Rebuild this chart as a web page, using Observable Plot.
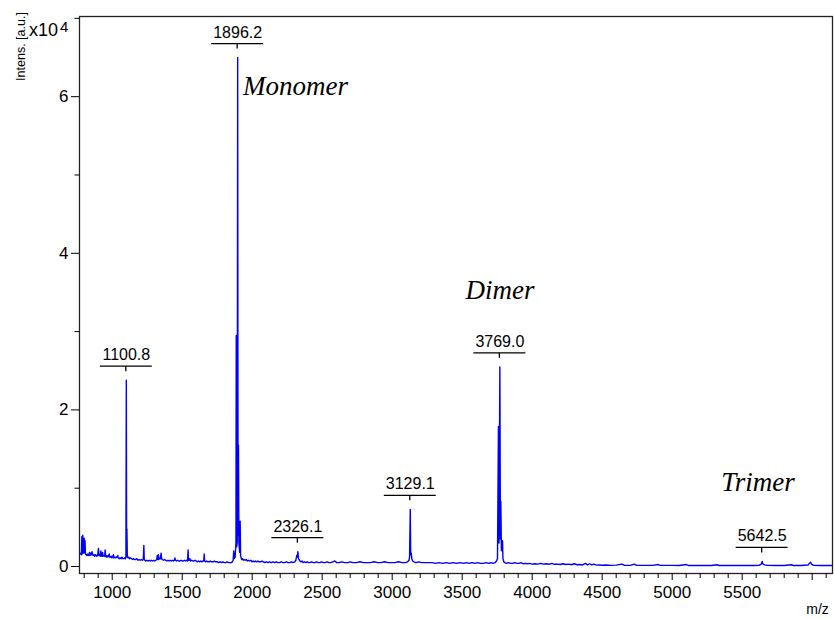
<!DOCTYPE html>
<html>
<head>
<meta charset="utf-8">
<script src="https://cdn.jsdelivr.net/npm/d3@7"></script>
<script src="https://cdn.jsdelivr.net/npm/@observablehq/plot@0.6"></script>
<style>
  html, body { margin: 0; padding: 0; background: #fff; }
  #chart { width: 835px; height: 619px; }
</style>
</head>
<body>
<div id="chart"></div>
<script>
// ---- Data (m/z, intensity in units of 10^4 a.u.) ----
const spectrum = [
  [768,0.16],[775,0.17],[780,0.15],[783,0.38],[786,0.16],[790,0.40],[793,0.20],[797,0.17],[800,0.36],[803,0.18],
  [806,0.33],[809,0.16],[814,0.15],[819,0.14],[824,0.16],[829,0.14],[834,0.15],[838,0.18],[842,0.14],[847,0.17],
  [851,0.15],[856,0.19],[860,0.15],[865,0.14],[870,0.15],[875,0.13],[880,0.15],[885,0.14],[890,0.13],[896,0.15],
  [902,0.23],[905,0.14],[910,0.15],[915,0.13],[919,0.20],[922,0.14],[927,0.13],[931,0.18],[934,0.13],[940,0.14],
  [946,0.13],[950,0.21],[953,0.13],[958,0.12],[963,0.14],[968,0.12],[973,0.13],[979,0.16],[982,0.12],[988,0.12],
  [993,0.13],[998,0.11],[1004,0.13],[1009,0.15],[1012,0.11],[1018,0.12],[1025,0.11],[1032,0.12],[1040,0.14],[1043,0.11],
  [1050,0.10],[1057,0.11],[1064,0.10],[1069,0.12],[1075,0.10],[1082,0.10],[1088,0.11],[1094,0.10],[1098,0.12],[1100.8,2.38],
  [1103,0.14],[1105,0.48],[1108,0.12],[1113,0.11],[1118,0.12],[1124,0.10],[1130,0.11],[1138,0.10],[1146,0.09],[1152,0.10],
  [1160,0.09],[1168,0.09],[1176,0.10],[1184,0.08],[1192,0.09],[1200,0.08],[1208,0.09],[1216,0.08],[1222,0.09],[1226,0.27],
  [1229,0.09],[1234,0.08],[1240,0.07],[1248,0.08],[1256,0.07],[1264,0.08],[1272,0.07],[1280,0.08],[1288,0.07],[1296,0.08],
  [1304,0.07],[1312,0.08],[1318,0.09],[1322,0.14],[1326,0.09],[1330,0.15],[1334,0.09],[1340,0.11],[1345,0.10],[1349,0.17],
  [1353,0.10],[1358,0.09],[1366,0.08],[1374,0.09],[1382,0.08],[1390,0.07],[1398,0.08],[1406,0.07],[1414,0.08],[1422,0.07],
  [1430,0.08],[1438,0.07],[1444,0.08],[1448,0.11],[1452,0.08],[1460,0.07],[1468,0.08],[1476,0.07],[1484,0.07],[1492,0.08],
  [1500,0.07],[1508,0.07],[1516,0.08],[1524,0.07],[1532,0.08],[1538,0.07],[1542,0.21],[1545,0.08],[1550,0.08],[1555,0.10],
  [1560,0.07],[1568,0.08],[1576,0.07],[1584,0.07],[1592,0.08],[1600,0.07],[1608,0.06],[1616,0.07],[1624,0.06],[1632,0.07],
  [1640,0.06],[1648,0.07],[1654,0.07],[1657,0.16],[1660,0.07],[1668,0.06],[1676,0.07],[1684,0.06],[1692,0.06],[1700,0.07],
  [1710,0.06],[1720,0.06],[1730,0.07],[1740,0.06],[1750,0.06],[1760,0.05],[1770,0.06],[1780,0.05],[1790,0.06],[1800,0.05],
  [1810,0.05],[1820,0.06],[1830,0.05],[1840,0.05],[1850,0.05],[1858,0.06],[1864,0.08],[1868,0.20],[1872,0.10],[1878,0.12],
  [1884,0.30],[1886,2.95],[1889,0.25],[1893,0.30],[1896.2,6.50],[1899,0.40],[1902,1.55],[1905,0.30],[1910,0.18],[1914,0.58],
  [1917,0.14],[1920,0.12],[1925,0.09],[1930,0.10],[1936,0.08],[1942,0.09],[1950,0.08],[1958,0.09],[1966,0.07],[1974,0.08],
  [1982,0.07],[1990,0.08],[1998,0.06],[2006,0.07],[2014,0.06],[2022,0.07],[2032,0.06],[2040,0.07],[2050,0.06],[2060,0.06],
  [2070,0.07],[2080,0.06],[2090,0.05],[2100,0.06],[2112,0.05],[2124,0.06],[2136,0.05],[2148,0.06],[2160,0.05],[2172,0.06],
  [2184,0.05],[2196,0.05],[2208,0.06],[2220,0.05],[2232,0.05],[2244,0.06],[2256,0.05],[2268,0.05],[2280,0.06],[2292,0.05],
  [2304,0.06],[2312,0.08],[2318,0.14],[2322,0.12],[2326.1,0.19],[2330,0.11],[2334,0.09],[2340,0.07],[2348,0.06],[2356,0.07],
  [2364,0.05],[2374,0.06],[2384,0.05],[2394,0.06],[2404,0.05],[2414,0.05],[2424,0.06],[2436,0.05],[2448,0.05],[2460,0.06],
  [2472,0.05],[2484,0.05],[2496,0.06],[2508,0.05],[2520,0.05],[2534,0.06],[2548,0.05],[2562,0.05],[2576,0.06],[2590,0.07],
  [2604,0.05],[2620,0.05],[2640,0.06],[2660,0.05],[2680,0.05],[2700,0.06],[2720,0.05],[2745,0.05],[2770,0.06],[2795,0.05],
  [2820,0.05],[2845,0.05],[2870,0.06],[2895,0.05],[2920,0.05],[2945,0.06],[2970,0.05],[2995,0.05],[3020,0.05],[3045,0.06],
  [3070,0.05],[3095,0.05],[3110,0.06],[3120,0.08],[3124,0.12],[3129.1,0.73],[3132,0.15],[3136,0.17],[3140,0.10],[3146,0.07],
  [3155,0.06],[3170,0.05],[3190,0.06],[3210,0.05],[3235,0.05],[3260,0.05],[3285,0.05],[3310,0.04],[3335,0.05],[3360,0.04],
  [3385,0.05],[3410,0.04],[3435,0.05],[3460,0.04],[3485,0.05],[3510,0.04],[3530,0.05],[3550,0.04],[3570,0.05],[3590,0.04],
  [3610,0.05],[3630,0.04],[3650,0.04],[3670,0.05],[3690,0.04],[3705,0.05],[3720,0.04],[3735,0.05],[3745,0.07],[3752,0.10],
  [3759,1.79],[3763,0.30],[3769.0,2.55],[3773,0.35],[3776,0.83],[3780,0.20],[3788,0.33],[3791,0.10],[3797,0.06],[3805,0.05],
  [3815,0.04],[3830,0.05],[3845,0.04],[3860,0.04],[3875,0.05],[3890,0.04],[3905,0.04],[3920,0.05],[3935,0.035],[3950,0.04],
  [3965,0.035],[3980,0.04],[4000,0.03],[4020,0.035],[4040,0.03],[4060,0.04],[4080,0.03],[4100,0.035],[4120,0.028],[4140,0.04],
  [4160,0.028],[4180,0.03],[4200,0.025],[4220,0.035],[4240,0.025],[4260,0.03],[4280,0.022],[4300,0.035],[4320,0.022],[4340,0.025],
  [4360,0.02],[4380,0.04],[4395,0.02],[4410,0.035],[4425,0.02],[4440,0.03],[4460,0.018],[4480,0.02],[4500,0.016],[4530,0.02],
  [4560,0.015],[4600,0.018],[4640,0.03],[4660,0.015],[4700,0.015],[4730,0.03],[4745,0.015],[4780,0.015],[4820,0.015],[4860,0.014],
  [4900,0.025],[4915,0.014],[4960,0.014],[5000,0.014],[5050,0.013],[5100,0.025],[5115,0.013],[5160,0.013],[5220,0.013],[5280,0.013],
  [5320,0.022],[5335,0.013],[5400,0.013],[5460,0.013],[5520,0.013],[5580,0.013],[5620,0.015],[5636,0.03],[5642.5,0.065],[5648,0.03],
  [5660,0.02],[5680,0.014],[5740,0.013],[5800,0.013],[5850,0.022],[5865,0.013],[5920,0.013],[5970,0.02],[5980,0.04],[5988,0.055],
  [5995,0.03],[6010,0.015],[6060,0.013],[6145,0.013]
];

// Labelled peaks
const peakMz        = [1100.8, 1896.2, 2326.1, 3129.1, 3769.0, 5642.5];
const peakIntensity = [2.38,   6.50,   0.19,   0.73,   2.55,   0.065];
const peakLabels    = ["1100.8", "1896.2", "2326.1", "3129.1", "3769.0", "5642.5"];

// Species annotations (anchor = left end of text baseline)
const speciesNames     = ["Monomer", "Dimer", "Trimer"];
const speciesMz        = [1935, 3524, 5350];
const speciesIntensity = [6.02, 3.41, 0.96];

// Axis ticks
const xMajorTicks = [1000, 1500, 2000, 2500, 3000, 3500, 4000, 4500, 5000, 5500, 6000];
const xMinorTicks = [800, 900, 1100, 1200, 1300, 1400, 1600, 1700, 1800, 1900, 2100, 2200, 2300, 2400,
  2600, 2700, 2800, 2900, 3100, 3200, 3300, 3400, 3600, 3700, 3800, 3900, 4100, 4200, 4300, 4400,
  4600, 4700, 4800, 4900, 5100, 5200, 5300, 5400, 5600, 5700, 5800, 5900, 6100];
const xHiddenLabels = [6000];
const yMajorTicks = [0, 2, 4, 6];
const yMinorTicks = [1, 3, 5, 7];

// ---- Build chart ----
const specData = spectrum.map(([mz, y]) => ({mz, y}));
const peaks = peakMz.map((mz, i) => ({mz, y: peakIntensity[i], label: peakLabels[i]}));
const species = speciesNames.map((name, i) => ({name, mz: speciesMz[i], y: speciesIntensity[i]}));

const SANS = "'Liberation Sans', Arial, Helvetica, sans-serif";
const SERIF = "'Liberation Serif', 'Times New Roman', serif";

function peakMarkers(index, scales) {
  const g = d3.create("svg:g").attr("stroke", "#000").attr("stroke-width", 1.3);
  peaks.forEach(p => {
    const px = scales.x(p.mz), py = scales.y(p.y);
    g.append("line").attr("x1", px - 26).attr("x2", px + 26)
      .attr("y1", py - 13.5).attr("y2", py - 13.5);
    g.append("line").attr("x1", px).attr("x2", px)
      .attr("y1", py - 13.5).attr("y2", py - 8.5);
  });
  return g.node();
}

const chart = Plot.plot({
  width: 835,
  height: 619,
  marginLeft: 79,
  marginRight: 3,
  marginTop: 16,
  marginBottom: 46,
  style: {fontFamily: SANS, fontSize: "17px", color: "#000", background: "#fff", overflow: "visible"},
  x: {domain: [766.4, 6145]},
  y: {domain: [-0.0894, 7.024]},
  marks: [
    Plot.line(specData, {x: "mz", y: "y", stroke: "#0000ff", strokeWidth: 1.4, curve: "linear"}),
    Plot.frame({stroke: "#222", strokeWidth: 1.3}),
    Plot.axisX({ticks: xMajorTicks, tickSize: 7, tickPadding: 5, fontSize: 17, label: null,
      tickFormat: d => xHiddenLabels.includes(d) ? "" : String(d)}),
    Plot.axisX({ticks: xMinorTicks, tickSize: 5, tickFormat: () => "", label: null}),
    Plot.axisY({ticks: yMajorTicks, tickSize: 8, tickPadding: 3, fontSize: 17, label: null,
      tickFormat: d => String(d)}),
    Plot.axisY({ticks: yMinorTicks, tickSize: 4.5, tickFormat: () => "", label: null}),
    peakMarkers,
    Plot.text(peaks, {x: "mz", y: "y", text: "label", dy: -20, lineAnchor: "bottom",
      textAnchor: "middle", fontSize: 16, fill: "#000"}),
    Plot.text(species, {x: "mz", y: "y", text: "name", lineAnchor: "bottom", textAnchor: "start",
      fontFamily: SERIF, fontStyle: "italic", fontSize: 27, fill: "#000"}),
    Plot.text(["Intens. [a.u.]"], {frameAnchor: "top-left", dx: -59, dy: 30, rotate: -90,
      textAnchor: "middle", lineAnchor: "middle", fontSize: 12.5, fill: "#000"}),
    Plot.text(["x10"], {frameAnchor: "top-left", dx: -50.5, dy: 19.7, textAnchor: "start",
      lineAnchor: "bottom", fontSize: 18, fill: "#000"}),
    Plot.text(["4"], {frameAnchor: "top-left", dx: -19.5, dy: 15, textAnchor: "start",
      lineAnchor: "bottom", fontSize: 15, fill: "#000"}),
    Plot.text(["m/z"], {frameAnchor: "bottom-right", dx: -15, dy: 40, textAnchor: "middle",
      lineAnchor: "bottom", fontSize: 14, fill: "#000"})
  ]
});

document.getElementById("chart").appendChild(chart);
</script>
</body>
</html>
